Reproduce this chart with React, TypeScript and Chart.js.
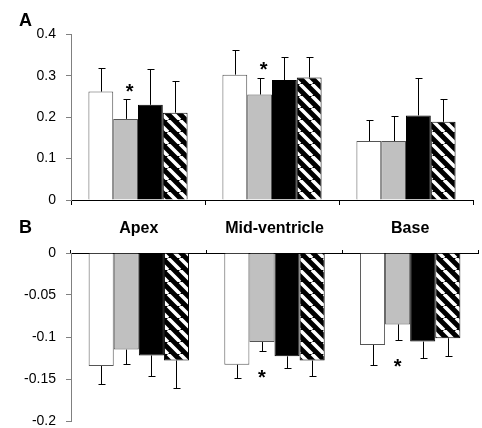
import { useEffect, useRef } from "react";
import { Chart, registerables } from "chart.js";

Chart.register(...registerables);

const categories = ["Apex", "Mid-ventricle", "Base"];

// Panel A values (mean) and error (SD upward)
const aWhite = [0.262, 0.303, 0.1425];
const aGray = [0.196, 0.255, 0.1425];
const aBlack = [0.23, 0.29, 0.2045];
const aHatch = [0.211, 0.296, 0.189];
const aWhiteErr = [0.058, 0.059, 0.05];
const aGrayErr = [0.047, 0.041, 0.06];
const aBlackErr = [0.086, 0.055, 0.09];
const aHatchErr = [0.077, 0.05, 0.056];

// Panel B values (mean) and error (SD downward)
const bWhite = [-0.1345, -0.133, -0.1095];
const bGray = [-0.115, -0.106, -0.085];
const bBlack = [-0.122, -0.123, -0.1055];
const bHatch = [-0.128, -0.128, -0.1015];
const bWhiteErr = [0.022, 0.016, 0.0235];
const bGrayErr = [0.017, 0.011, 0.018];
const bBlackErr = [0.025, 0.014, 0.019];
const bHatchErr = [0.033, 0.019, 0.021];

const aTicks = [0, 0.1, 0.2, 0.3, 0.4];
const aTickLabels = ["0", "0.1", "0.2", "0.3", "0.4"];
const bTicks = [-0.2, -0.15, -0.1, -0.05, 0];
const bTickLabels = ["-0.2", "-0.15", "-0.1", "-0.05", "0"];

// significance markers: [category index, series index]
const starsA = [
  [0, 1],
  [1, 1],
];
const starsB = [
  [1, 1],
  [2, 1],
];

const FONT = "'Liberation Sans', Arial, sans-serif";

function makeHatch(): CanvasPattern | string {
  const c = document.createElement("canvas");
  const s = 12;
  c.width = s;
  c.height = s;
  const g = c.getContext("2d");
  if (!g) return "#000";
  g.fillStyle = "#000";
  g.fillRect(0, 0, s, s);
  g.strokeStyle = "#fff";
  g.lineWidth = 3.6;
  g.beginPath();
  for (const o of [-s, 0, s]) {
    g.moveTo(o, 0);
    g.lineTo(o + s, s);
  }
  g.stroke();
  return g.createPattern(c, "repeat") || "#000";
}

function errorPlugin(errs: number[][], dir: number, stars: number[][], starDy: number, starDx: number) {
  return {
    id: "errbars",
    afterDatasetsDraw(chart: any) {
      const ctx = chart.ctx;
      const y = chart.scales.y;
      ctx.save();
      ctx.strokeStyle = "#000";
      ctx.lineWidth = 1;
      chart.data.datasets.forEach((ds: any, i: number) => {
        const meta = chart.getDatasetMeta(i);
        meta.data.forEach((el: any, j: number) => {
          const v = ds.data[j];
          const end = y.getPixelForValue(v + dir * errs[i][j]);
          const x = Math.round(el.x) + 0.5;
          const y0 = el.y;
          const ye = Math.round(end) + 0.5;
          ctx.beginPath();
          ctx.moveTo(x, y0);
          ctx.lineTo(x, ye);
          ctx.moveTo(x - 3, ye);
          ctx.lineTo(x + 4, ye);
          ctx.stroke();
        });
      });
      ctx.fillStyle = "#000";
      ctx.font = "bold 20px " + FONT;
      ctx.textAlign = "center";
      ctx.textBaseline = "alphabetic";
      stars.forEach(([c, s]) => {
        const el = chart.getDatasetMeta(s).data[c];
        const v = chart.data.datasets[s].data[c];
        const end = y.getPixelForValue(v + dir * errs[s][c]);
        const cy = end + starDy;
        ctx.fillText("*", el.x + starDx, cy + 11.5);
      });
      ctx.restore();
    },
  };
}

function datasets(w: number[], g: number[], b: number[], h: number[], hatch: any) {
  return [
    { label: "1", data: w, backgroundColor: "#ffffff", borderColor: "#555555", borderWidth: 1 },
    { label: "2", data: g, backgroundColor: "#c0c0c0", borderColor: "#555555", borderWidth: 1 },
    { label: "3", data: b, backgroundColor: "#000000", borderColor: "#000000", borderWidth: 1 },
    { label: "4", data: h, backgroundColor: hatch, borderColor: "#000000", borderWidth: 1 },
  ];
}

const fitY = (s: any) => {
  s.width = 71;
  s.paddingTop = 0;
  s.paddingBottom = 0;
};

export default function App() {
  const refA = useRef<HTMLCanvasElement>(null);
  const refB = useRef<HTMLCanvasElement>(null);

  useEffect(() => {
    const hatch = makeHatch();
    const common = {
      responsive: false,
      animation: false as const,
      plugins: { legend: { display: false }, tooltip: { enabled: false } },
      datasets: { bar: { categoryPercentage: 0.74, barPercentage: 1 } },
    };
    const chartA = new Chart(refA.current as HTMLCanvasElement, {
      type: "bar",
      data: { labels: categories, datasets: datasets(aWhite, aGray, aBlack, aHatch, hatch) as any },
      options: {
        ...common,
        layout: { padding: { top: 34.5, right: 9, left: 0, bottom: 0 } },
        scales: {
          x: {
            type: "category",
            offset: true,
            grid: { display: true, offset: true, drawOnChartArea: false, drawTicks: true, tickLength: 5, color: "#000" },
            border: { display: true, color: "#000" },
            ticks: { display: false },
            afterFit: (s: any) => {
              s.height = 10;
            },
          },
          y: {
            min: 0,
            max: 0.4,
            afterBuildTicks: (s: any) => {
              s.ticks = aTicks.map((v) => ({ value: v }));
            },
            grid: { drawOnChartArea: false, drawTicks: true, tickLength: 5, color: "#808080" },
            border: { display: true, color: "#808080" },
            ticks: {
              color: "#000",
              padding: 10,
              font: { family: FONT, size: 14 },
              callback: (v: any) => aTickLabels[aTicks.indexOf(v)],
            },
            afterFit: fitY,
          },
        },
      } as any,
      plugins: [errorPlugin([aWhiteErr, aGrayErr, aBlackErr, aHatchErr], 1, starsA, -13, 4)],
    });
    const chartB = new Chart(refB.current as HTMLCanvasElement, {
      type: "bar",
      data: { labels: categories, datasets: datasets(bWhite, bGray, bBlack, bHatch, hatch) as any },
      options: {
        ...common,
        layout: { padding: { top: 0, right: 4, left: 0, bottom: 7 } },
        scales: {
          x: {
            type: "category",
            position: "top",
            offset: true,
            grid: { display: true, offset: true, drawOnChartArea: false, drawTicks: true, tickLength: 3, color: "#000" },
            border: { display: true, color: "#000" },
            ticks: { color: "#000", padding: 12, maxRotation: 0, font: { family: FONT, size: 16, weight: "bold" } },
            afterFit: (s: any) => {
              s.height = 43;
            },
          },
          y: {
            min: -0.2,
            max: 0,
            afterBuildTicks: (s: any) => {
              s.ticks = bTicks.map((v) => ({ value: v }));
            },
            grid: { drawOnChartArea: false, drawTicks: true, tickLength: 5, color: "#808080" },
            border: { display: true, color: "#808080" },
            ticks: {
              color: "#000",
              padding: 10,
              font: { family: FONT, size: 14 },
              callback: (v: any) => bTickLabels[bTicks.indexOf(v)],
            },
            afterFit: fitY,
          },
        },
      } as any,
      plugins: [errorPlugin([bWhiteErr, bGrayErr, bBlackErr, bHatchErr], -1, starsB, 21.5, 0)],
    });
    return () => {
      chartA.destroy();
      chartB.destroy();
    };
  }, []);

  const label: any = {
    position: "absolute",
    left: 19,
    font: "bold 18px " + FONT,
    lineHeight: "18px",
    color: "#000",
  };

  return (
    <div style={{ position: "absolute", left: 0, top: 0, width: 482, height: 428, background: "#fff" }}>
      <canvas ref={refA} width={482} height={210} style={{ position: "absolute", left: 0, top: 0 }} />
      <canvas ref={refB} width={482} height={218} style={{ position: "absolute", left: 0, top: 210 }} />
      <div style={{ ...label, top: 10.5 }}>A</div>
      <div style={{ ...label, top: 218 }}>B</div>
    </div>
  );
}
